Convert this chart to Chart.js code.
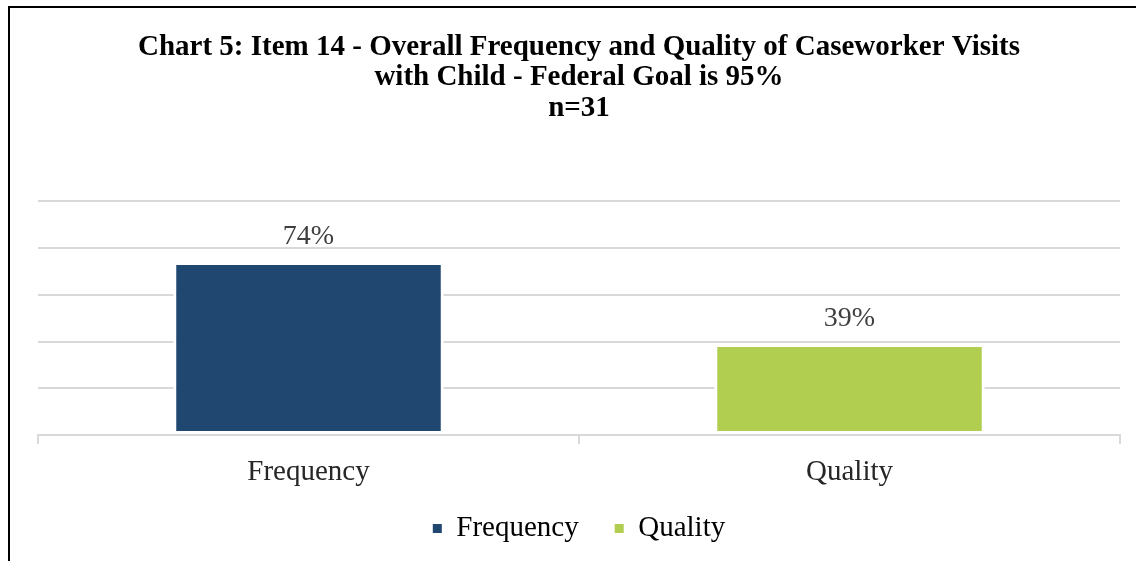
<!DOCTYPE html>
<html>
<head>
<meta charset="utf-8">
<script src="https://cdn.jsdelivr.net/npm/chart.js@4.4.0/dist/chart.umd.min.js"></script>
<style>
    html, body { margin: 0; padding: 0; background: #fff; overflow: hidden; }
    #wrap { position: relative; width: 1136px; height: 561px; }
    #frame {
        position: absolute; left: 8px; top: 6px; width: 2000px; height: 2000px;
        border-left: 2px solid #000; border-top: 2px solid #000; pointer-events: none;
    }
</style>
</head>
<body>
<div id="wrap">
    <canvas id="visitChart"></canvas>
    <div id="frame"></div>
</div>
<script>
// chart data
const categories = ['Frequency', 'Quality'];
const percentValues = [74, 39];
const barColors = ['#1F4770', '#B2CE51'];
const titleLines = [
    'Chart 5: Item 14 - Overall Frequency and Quality of Caseworker Visits',
    'with Child - Federal Goal is 95%',
    'n=31'
];
const yTicks = [0, 20, 40, 60, 80, 100];

const serif = '"Liberation Serif", "Times New Roman", serif';

// draws the "74%" style labels above each bar
const valueLabels = {
    id: 'valueLabels',
    afterDatasetsDraw(chart) {
        const ctx = chart.ctx;
        const meta = chart.getDatasetMeta(0);
        ctx.save();
        ctx.font = '28px ' + serif;
        ctx.fillStyle = '#404040';
        ctx.textAlign = 'center';
        ctx.textBaseline = 'alphabetic';
        meta.data.forEach((bar, i) => {
            ctx.fillText(percentValues[i] + '%', bar.x, bar.y - 18);
        });
        ctx.restore();
    }
};

// x axis is kept short so the legend sits close; let its labels run past it
const unclipLabels = {
    id: 'unclipLabels',
    afterLayout(chart) {
        chart.scales.x.bottom = chart.height;
    }
};

window.addEventListener('load', () => {
    const ctx = document.getElementById('visitChart');
    new Chart(ctx, {
        type: 'bar',
        data: {
            labels: categories,
            datasets: [{
                label: 'Percent',
                data: percentValues,
                backgroundColor: barColors,
                borderColor: '#fff',
                borderWidth: 3,
                borderSkipped: false,
                barPercentage: 0.5,
                categoryPercentage: 1
            }]
        },
        options: {
            responsive: true,
            maintainAspectRatio: false,
            animation: false,
            layout: { padding: { left: 38, right: 16, top: 0, bottom: 8 } },
            plugins: {
                tooltip: { enabled: false },
                title: {
                    display: true,
                    text: titleLines,
                    color: '#000',
                    font: { family: serif, size: 29, weight: 'bold', lineHeight: 1.05 },
                    padding: { top: 32, bottom: 78 }
                },
                legend: {
                    display: true,
                    position: 'bottom',
                    labels: {
                        boxWidth: 9,
                        boxHeight: 9,
                        padding: 36,
                        color: '#262626',
                        font: { family: serif, size: 29 },
                        generateLabels: () => categories.map((name, i) => ({
                            text: name,
                            fillStyle: barColors[i],
                            strokeStyle: barColors[i],
                            lineWidth: 0,
                            hidden: false,
                            index: i
                        }))
                    }
                }
            },
            scales: {
                x: {
                    z: 1,
                    afterFit: (axis) => { axis.height = 43; },
                    grid: {
                        offset: true,
                        drawOnChartArea: false,
                        drawTicks: true,
                        tickLength: 9,
                        color: '#D9D9D9',
                        lineWidth: 2
                    },
                    border: { display: true, color: '#D9D9D9', width: 2 },
                    ticks: {
                        color: '#262626',
                        font: { family: serif, size: 29, lineHeight: 1.2 },
                        padding: 11
                    }
                },
                y: {
                    min: 0,
                    max: 100,
                    afterBuildTicks: (axis) => { axis.ticks = yTicks.map(v => ({ value: v })); },
                    grid: { color: '#D9D9D9', lineWidth: 2, drawTicks: false },
                    border: { display: false },
                    ticks: { display: false }
                }
            }
        },
        plugins: [valueLabels, unclipLabels]
    });
});
</script>
</body>
</html>
